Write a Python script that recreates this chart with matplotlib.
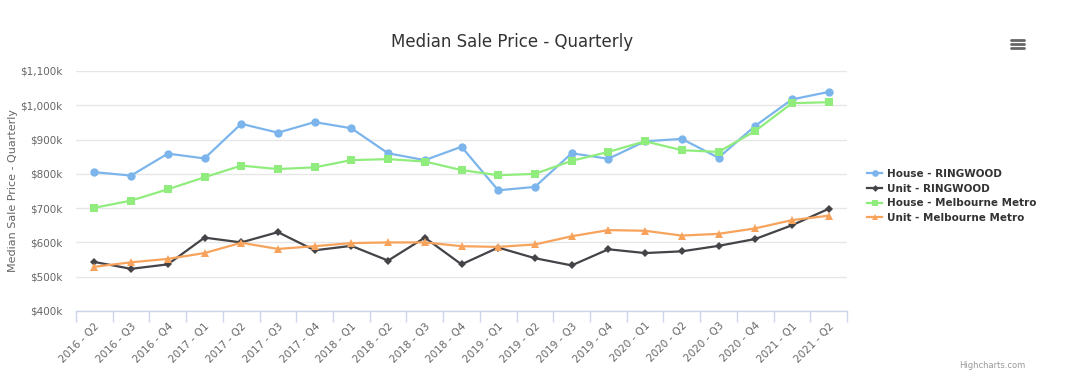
import matplotlib
matplotlib.use("Agg")
import matplotlib.pyplot as plt
from matplotlib.ticker import FuncFormatter, FixedLocator

categories = ["2016 - Q2", "2016 - Q3", "2016 - Q4", "2017 - Q1", "2017 - Q2", "2017 - Q3",
              "2017 - Q4", "2018 - Q1", "2018 - Q2", "2018 - Q3", "2018 - Q4", "2019 - Q1",
              "2019 - Q2", "2019 - Q3", "2019 - Q4", "2020 - Q1", "2020 - Q2", "2020 - Q3",
              "2020 - Q4", "2021 - Q1", "2021 - Q2"]

house_ringwood = [805, 795, 859, 845, 946, 920, 951, 933, 860, 840, 879, 752,
                  762, 860, 844, 895, 902, 847, 940, 1017, 1039]
unit_ringwood = [543, 523, 536, 614, 600, 630, 577, 590, 547, 614, 536, 585,
                 554, 533, 580, 569, 574, 590, 610, 650, 698]
house_metro = [701, 722, 755, 790, 824, 814, 819, 840, 843, 836, 811, 796,
               800, 838, 864, 895, 869, 864, 925, 1006, 1009]
unit_metro = [529, 542, 552, 569, 599, 581, 589, 598, 600, 600, 589, 587,
              594, 618, 636, 634, 620, 625, 641, 665, 678]

series_names = ["House - RINGWOOD", "Unit - RINGWOOD", "House - Melbourne Metro", "Unit - Melbourne Metro"]
y_ticks = [400, 500, 600, 700, 800, 900, 1000, 1100]

plt.rcParams['font.family'] = ['DejaVu Sans']

fig = plt.figure(figsize=(10.8, 3.8), dpi=100)
ax = fig.add_axes([76/1080, 1 - 311/380, (847-76)/1080, (311-71)/380])

x = list(range(len(categories)))
styles = [
    (house_ringwood, "#7cb5ec", "o", 6),
    (unit_ringwood, "#434348", "D", 4.3),
    (house_metro, "#90ed7d", "s", 5.5),
    (unit_metro, "#f7a35c", "^", 5.8),
]
for (vals, col, mk, ms), name in zip(styles, series_names):
    ax.plot(x, vals, color=col, marker=mk, markersize=ms, linewidth=1.6,
            markeredgewidth=0, label=name, zorder=3)

ax.set_xlim(-0.5, len(categories) - 0.5)
ax.set_ylim(400, 1100)
ax.set_yticks(y_ticks)
ax.yaxis.set_major_formatter(FuncFormatter(lambda v, p: "${:,.0f}k".format(v)))
ax.grid(axis='y', color='#e6e6e6', linewidth=1, zorder=0)
ax.set_axisbelow(True)

for s in ['top', 'right', 'left']:
    ax.spines[s].set_visible(False)
ax.spines['bottom'].set_color('#ccd6eb')
ax.spines['bottom'].set_linewidth(1)

ax.tick_params(axis='y', length=0, labelsize=7.5, labelcolor='#666666', pad=10)
ax.set_xticks(x)
ax.set_xticklabels(categories, rotation=45, ha='right', rotation_mode='anchor',
                   fontsize=7.5, color='#666666')
ax.tick_params(axis='x', length=0, pad=7)
ax.xaxis.set_minor_locator(FixedLocator([i - 0.5 for i in range(len(categories) + 1)]))
ax.tick_params(axis='x', which='minor', length=8, color='#ccd6eb', width=1)

ax.set_ylabel("Median Sale Price - Quarterly", fontsize=8, color='#666666')
ax.yaxis.set_label_coords(-0.075, 0.5)

fig.text(512/1080, 1 - 42/380, "Median Sale Price - Quarterly", ha='center', va='center',
         fontsize=12, color='#333333')

leg = ax.legend(loc='center left', bbox_to_anchor=(858/1080, 1 - 196/380),
                bbox_transform=fig.transFigure, frameon=False,
                handlelength=1.4, handletextpad=0.5, labelspacing=0.45, markerscale=0.8,
                prop={'weight': 'bold', 'size': 7.5})
for t in leg.get_texts():
    t.set_color('#333333')

# menu icon
for dy in (-4, 0, 4):
    fig.add_artist(plt.Line2D([1011/1080, 1024/1080], [1 - (44+dy)/380]*2,
                              color='#666666', linewidth=2, solid_capstyle='round'))

fig.text(1025/1080, 1 - 366/380, "Highcharts.com", ha='right', va='center',
         fontsize=6, color='#999999')

fig.savefig("out.png", dpi=100, facecolor='white')
